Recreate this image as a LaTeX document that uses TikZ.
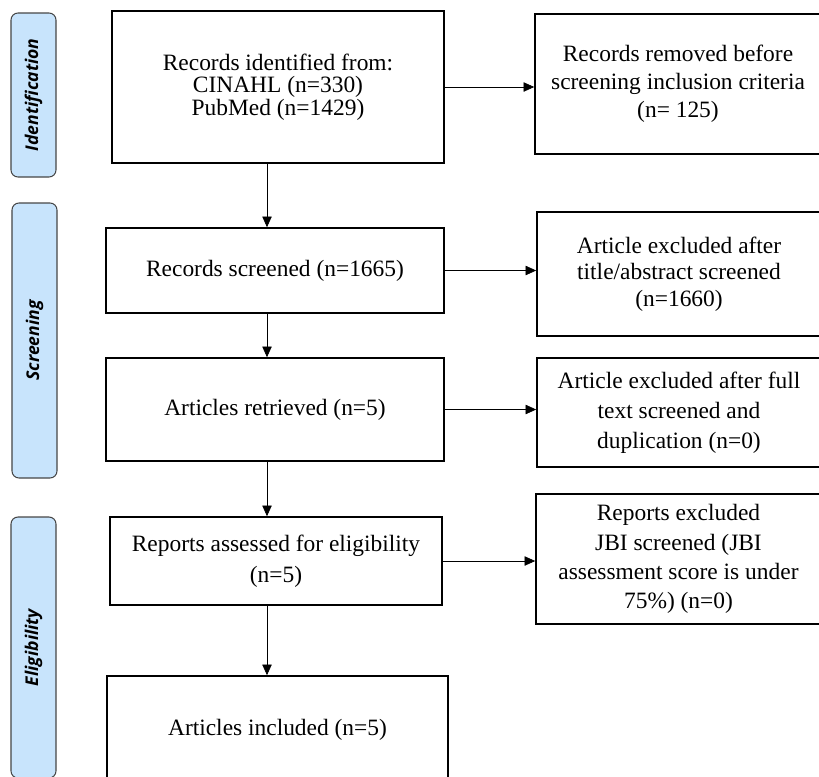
\documentclass[tikz,border=0pt]{standalone}
\usepackage{fontspec}
\setmainfont{Liberation Serif}
\newfontfamily\phasefont{Open Sans}
\usepackage{tikz}
\usetikzlibrary{arrows.meta}
\definecolor{phaseblue}{RGB}{200,228,252}
\definecolor{phaseedge}{RGB}{70,70,70}

\begin{document}
\begin{tikzpicture}[x=0.03cm, y=-0.03cm,
  flowbox/.style={draw, line width=1.4pt, align=center, inner sep=0pt,
    font=\fontsize{20}{24}\selectfont},
  phasebar/.style={draw=phaseedge, fill=phaseblue, line width=0.9pt, rounded corners=6pt,
    rotate=90, minimum height=1.35cm,
    font=\phasefont\bfseries\itshape\fontsize{15}{17}\selectfont},
  flowarrow/.style={-{Triangle[length=9pt,width=8pt]}, line width=0.6pt}]
\useasboundingbox (0,0) rectangle (819,776);
\clip (0,0) rectangle (819,776);

% Phase bars
\node[phasebar, minimum width=4.92cm] (idbar) at (33.5,95) {Identification};
\node[phasebar, minimum width=8.25cm] (scrbar) at (34.5,340.5) {Screening};
\node[phasebar, minimum width=7.83cm] (elibar) at (33.5,647.5) {Eligibility};

% Main column
\node[flowbox, minimum width=9.96cm, minimum height=4.56cm, font=\fontsize{20}{19.2}\selectfont]
  (ident) at (278,87) {Records identified from:\\CINAHL (n=330)\\PubMed (n=1429)};
\node[flowbox, minimum width=10.14cm, minimum height=2.55cm] (screened) at (275,270.5) {Records screened (n=1665)};
\node[flowbox, minimum width=10.14cm, minimum height=3.09cm] (retrieved) at (275,409.5) {Articles retrieved (n=5)};
\node[flowbox, minimum width=9.96cm, minimum height=2.64cm, font=\fontsize{20}{26.5}\selectfont]
  (assessed) at (276,561) {Reports assessed for eligibility\\(n=5)};
\node[flowbox, minimum width=10.23cm, minimum height=3.24cm] (included) at (277.5,730) {Articles included (n=5)};

% Excluded column
\node[flowbox, minimum width=8.58cm, minimum height=4.2cm] (removed) at (678,84)
  {Records removed before\\screening inclusion criteria\\(n= 125)};
\node[flowbox, minimum width=8.52cm, minimum height=3.72cm, font=\fontsize{20}{22.5}\selectfont] (excabs) at (679,274)
  {Article excluded after\\title/abstract screened\\(n=1660)};
\node[flowbox, minimum width=8.52cm, minimum height=3.27cm, font=\fontsize{20}{25.5}\selectfont] (excfull) at (679,412.5)
  {Article excluded after full\\text screened and\\duplication (n=0)};
\node[flowbox, minimum width=8.55cm, minimum height=3.9cm, font=\fontsize{20}{25}\selectfont] (excjbi) at (678.5,559)
  {Reports excluded\\JBI screened (JBI\\assessment score is under\\75\%) (n=0)};

% Arrows
\coordinate (col) at (267,0);
\draw[flowarrow] (ident.south -| col) -- (screened.north -| col);
\draw[flowarrow] (screened.south -| col) -- (retrieved.north -| col);
\draw[flowarrow] (retrieved.south -| col) -- (assessed.north -| col);
\draw[flowarrow] (assessed.south -| col) -- (included.north -| col);

\draw[flowarrow] (ident.east) -- (ident.east -| removed.west);
\draw[flowarrow] (screened.east) -- (screened.east -| excabs.west);
\draw[flowarrow] (retrieved.east) -- (retrieved.east -| excfull.west);
\draw[flowarrow] (assessed.east) -- (assessed.east -| excjbi.west);
\end{tikzpicture}
\end{document}
